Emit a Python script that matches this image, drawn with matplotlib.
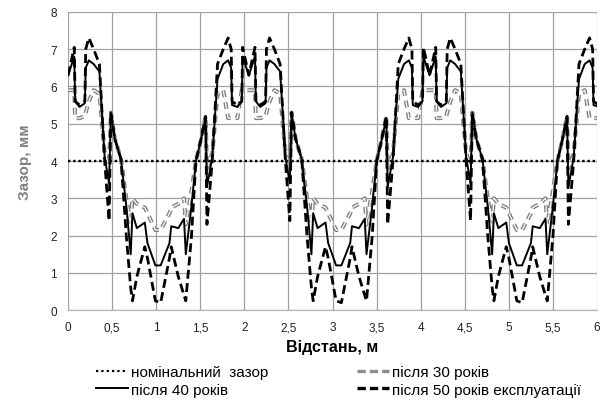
import numpy as np
import matplotlib
matplotlib.use("Agg")
import matplotlib.pyplot as plt
import matplotlib.patheffects as pe
from matplotlib.lines import Line2D

plt.rcParams['font.family'] = ['Liberation Sans', 'DejaVu Sans']

# один цикл профілю (відстань від центру зони з високим зазором), м
cycle_u = [0.00, 0.07, 0.08, 0.13, 0.19, 0.20, 0.235, 0.29, 0.355, 0.415,
           0.465, 0.485, 0.53, 0.60, 0.66, 0.71, 0.73, 0.78, 0.87, 0.90,
           0.99, 1.05, 1.15, 1.17, 1.25, 1.315, 1.335, 1.40, 1.45, 1.50,
           1.56, 1.575, 1.635, 1.695, 1.76, 1.815, 1.85, 1.86, 1.92, 1.97,
           1.98]
cycle_starts = [0.0, 2.05, 4.10]

gap_30 = [5.9, 5.9, 5.15, 5.15, 5.2, 5.3, 5.6, 5.9, 5.8, 4.2,
          3.9, 5.3, 4.6, 4.05, 3.0, 2.3, 3.0, 2.85, 2.75, 2.6,
          2.15, 2.15, 2.6, 2.75, 2.85, 3.0, 2.3, 3.2, 4.0, 4.5,
          5.2, 3.8, 4.2, 5.8, 5.9, 5.15, 5.15, 5.15, 5.15, 5.9,
          5.9]
gap_40 = [6.3, 6.8, 5.6, 5.45, 5.55, 6.5, 6.7, 6.6, 6.4, 4.1,
          3.4, 5.3, 4.6, 4.05, 2.8, 1.5, 2.6, 2.2, 2.35, 1.8,
          1.2, 1.2, 1.8, 2.25, 2.2, 2.45, 1.5, 2.8, 4.0, 4.5,
          5.15, 3.3, 4.1, 6.2, 6.6, 6.7, 6.5, 5.5, 5.45, 5.6,
          6.8]
gap_50 = [6.3, 7.05, 5.6, 5.5, 5.6, 7.0, 7.3, 7.0, 6.6, 4.0,
          2.4, 5.3, 4.6, 4.05, 2.0, 0.6, 0.25, 0.9, 1.7, 1.4,
          0.25, 0.2, 1.4, 1.7, 0.9, 0.4, 0.25, 2.0, 4.0, 4.5,
          5.2, 2.3, 4.0, 6.6, 7.0, 7.3, 7.0, 5.6, 5.5, 5.6,
          7.05]
nominal_gap = 4.0

x_ticks = [0, 0.5, 1, 1.5, 2, 2.5, 3, 3.5, 4, 4.5, 5, 5.5, 6]
x_tick_labels = ['0', '0,5', '1', '1,5', '2', '2,5', '3', '3,5', '4', '4,5', '5', '5,5', '6']


def full_series(values):
    xs = np.concatenate([s + np.array(cycle_u) for s in cycle_starts])
    ys = np.tile(values, len(cycle_starts))
    return xs, ys


fig = plt.figure(figsize=(6.08, 4.02), dpi=100)
ax = fig.add_axes([0.112, 0.226, 0.870, 0.742])

x30, y30 = full_series(gap_30)
x40, y40 = full_series(gap_40)
x50, y50 = full_series(gap_50)

ax.plot(x30, y30, color='white', lw=0.9, linestyle=(0, (5.5, 4)),
        path_effects=[pe.Stroke(linewidth=2.9, foreground='#808080'), pe.Normal()])
ax.plot(x40, y40, color='black', lw=1.4)
ax.plot(x50, y50, color='black', lw=2.0, linestyle=(0, (3.2, 1.6)))
ax.plot([0, 6], [nominal_gap, nominal_gap], color='black', lw=1.7, linestyle=(0, (1, 1.2)))

ax.set_xlim(0, 6)
ax.set_ylim(0, 8)
ax.set_xticks(x_ticks)
ax.set_xticklabels(x_tick_labels)
ax.set_yticks(range(9))
ax.tick_params(length=0, labelsize=8.5, pad=8, colors='#222222')
ax.grid(True, color='#a0a0a0', lw=0.9)
ax.set_axisbelow(True)
for side in ['top', 'right', 'left']:
    ax.spines[side].set_visible(False)
ax.spines['bottom'].set_color('#b0b0b0')

ax.set_xlabel('Відстань, м', fontsize=11.5, fontweight='bold', labelpad=4)
ax.set_ylabel('Зазор, мм', fontsize=11, fontweight='bold', color='#7f7f7f', labelpad=13)

handles = [
    Line2D([], [], color='black', lw=1.6, linestyle=(0, (1, 1.4))),
    Line2D([], [], color='black', lw=1.4),
    Line2D([], [], color='#8c8c8c', lw=2.4, linestyle=(0, (2.5, 1.2))),
    Line2D([], [], color='black', lw=2.4, linestyle=(0, (2.5, 1.2))),
]
labels = ['номінальний  зазор', 'після 40 років', 'після 30 років', 'після 50 років експлуатації']
fig.legend(handles, labels, ncol=2, loc='upper left', bbox_to_anchor=(0.148, 0.105),
           frameon=False, fontsize=11, handlelength=2.1, handletextpad=0.2,
           columnspacing=5.8, borderaxespad=0, labelspacing=0.25)

fig.savefig('out.png', dpi=100)
